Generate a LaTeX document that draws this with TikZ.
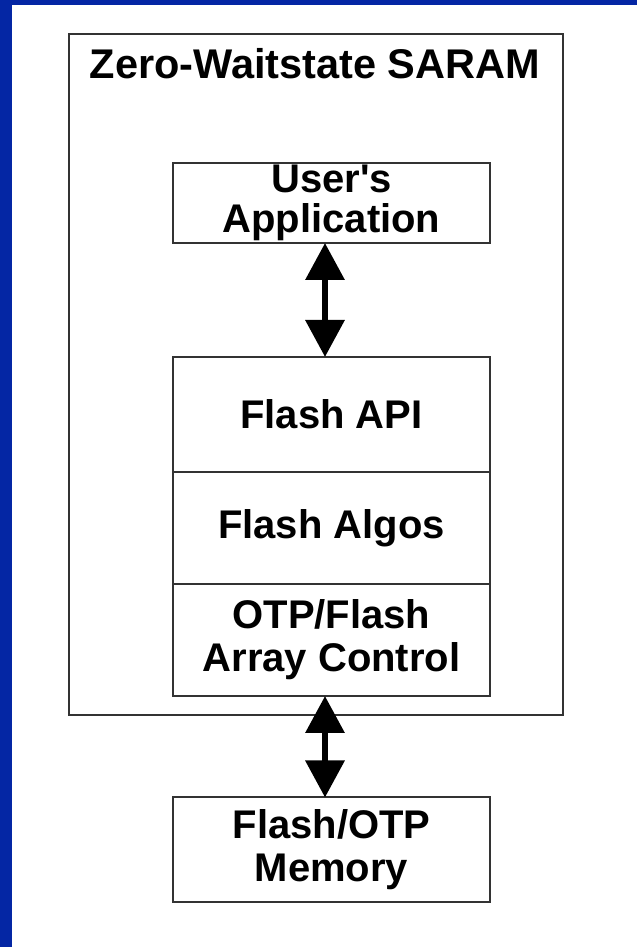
\documentclass[tikz,border=0pt]{standalone}
\usepackage{fontspec}
\setmainfont{Liberation Sans}[Ligatures=TeXOff]
\usepackage{tikz}
\usetikzlibrary{arrows.meta,positioning}
\definecolor{frameblue}{HTML}{0426A4}
\definecolor{edge}{HTML}{333333}

\begin{document}
\begin{tikzpicture}[x=1pt,y=1pt,node distance=0pt,
    txt/.style={font=\fontsize{40}{43}\selectfont\bfseries,align=center,inner sep=0pt},
    tight/.style={font=\fontsize{40}{40}\selectfont\bfseries},
    box/.style={txt,draw=edge,line width=2pt,outer sep=0pt,minimum width=317pt},
    dbl/.style={{Triangle[width=38pt,length=37pt]}-{Triangle[width=38pt,length=37pt]},line width=6.5pt}]
        \useasboundingbox (0,0) rectangle (637,947);
        \fill[frameblue] (0,0) rectangle (12,947);
        \fill[frameblue] (0,942) rectangle (637,947);
        \node[draw=edge,line width=2pt,minimum width=494pt,minimum height=681pt] (saram) at (316,572.5) {};
        \node[txt,font=\fontsize{41.5}{43}\selectfont\bfseries] (title) at (315,883) {Zero-Waitstate SARAM};
        \node[box,tight,minimum height=80pt] (user) at (331.5,744) {User's\\Application};
        \node[box,minimum height=115pt] (api) at (331.5,532.5) {Flash API};
        \node[box,minimum height=112pt,below=of api] (algos) {Flash Algos};
        \node[box,minimum height=112pt,below=of algos] (otp) {OTP/Flash\\Array Control};
        \node[box,minimum height=105pt] (mem) at (331.5,97) {Flash/OTP\\Memory};
        \draw[dbl] ([xshift=-6.5pt]user.south) -- ([xshift=-6.5pt]api.north);
        \draw[dbl] ([xshift=-6.5pt]otp.south) -- ([xshift=-6.5pt]mem.north);
      \end{tikzpicture}
\end{document}
